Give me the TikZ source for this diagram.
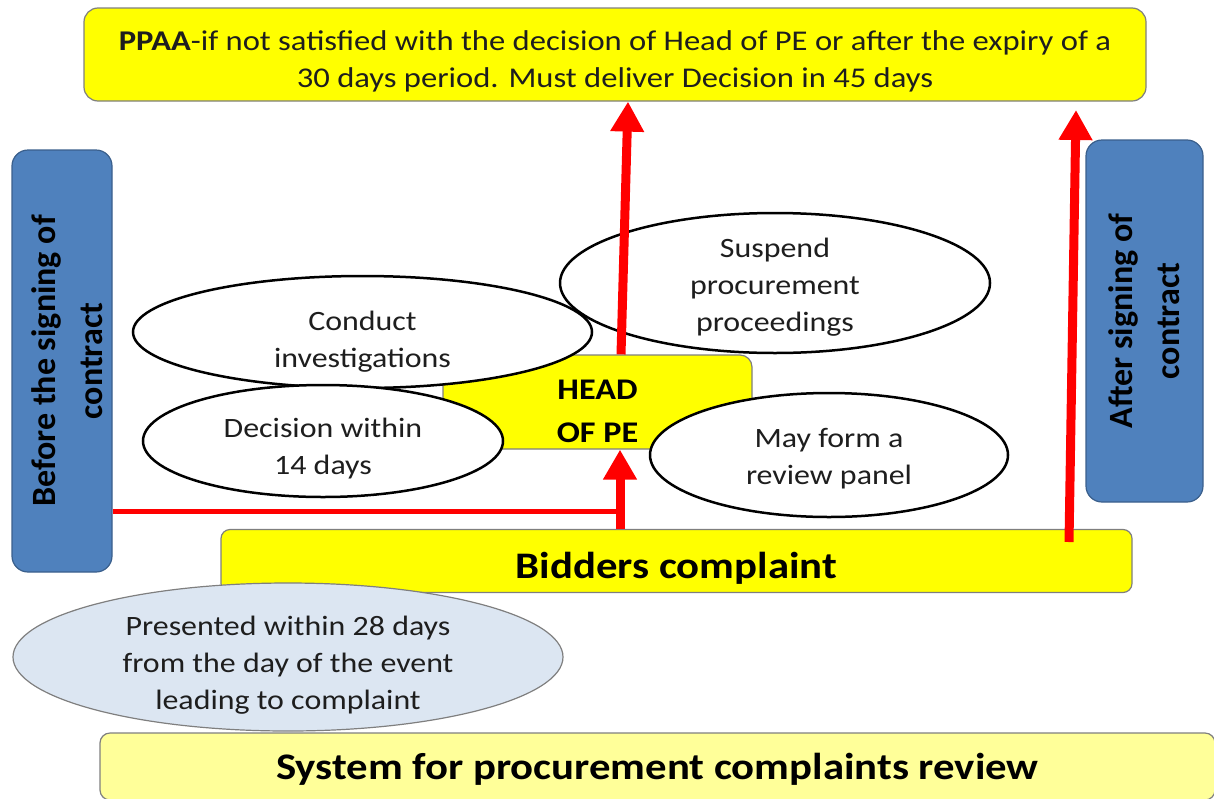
\documentclass[tikz,border=0pt]{standalone}
\usepackage{fontspec}
\setmainfont{Carlito}[FakeStretch=1.14]
\newfontfamily\upfont{Carlito}
\usetikzlibrary{shapes.geometric,arrows.meta}

\definecolor{hiyellow}{HTML}{FFFF00}
\definecolor{paleyellow}{HTML}{FFFF99}
\definecolor{boxblue}{HTML}{4F81BD}
\definecolor{boxblueline}{HTML}{3A5F8C}
\definecolor{paleblue}{HTML}{DCE6F2}
\definecolor{edgegray}{HTML}{7F7F7F}
\definecolor{ink}{HTML}{1E1E1E}

\begin{document}
\begin{tikzpicture}[x=1pt,y=-1pt,
  every node/.style={inner sep=0pt, text=ink},
  panel/.style={rounded corners=#1, draw=edgegray, line width=1.2pt},
  ybox/.style={panel=#1, fill=hiyellow},
  bbox/.style={panel=16pt, fill=boxblue, draw=boxblueline},
  oval/.style={ellipse, draw=black, line width=2.5pt, fill=white},
  body/.style={font=\fontsize{28}{37}\selectfont, align=center},
  heavy/.style={font=\bfseries\fontsize{37.5}{45}\selectfont, text=black},
  chief/.style={font=\bfseries\fontsize{30}{43}\selectfont, align=center, text=black},
  side/.style={font=\upfont\bfseries\fontsize{34}{47}\selectfont, align=center, text=black, rotate=90},
  redarrow/.style={draw=red, line width=9pt, -{Triangle[width=32pt,length=30pt]}},
  redline/.style={draw=red, line width=5pt}
]
\useasboundingbox (0,0) rectangle (1214,798);

% appeal authority at the top
\node[ybox=14pt, minimum width=1062pt, minimum height=93pt,
  label={[body, font=\fontsize{28.6}{37}\selectfont, yshift=-7pt]center:{\textbf{PPAA}-if not satisfied with the decision of Head of PE or after the expiry of a\\30 days period. Must deliver Decision in 45 days}}]
  (ppaa) at (615,54.5) {};

% the two time frames
\node[bbox, minimum width=100pt, minimum height=422pt,
  label={[xshift=5pt, side]center:{Before the signing of\\contract}}]
  (before) at (62,361) {};
\node[bbox, minimum width=117pt, minimum height=362pt,
  label={[side]center:{After signing of\\contract}}]
  (after) at (1144.5,321) {};

% title bar
\node[panel=10pt, fill=paleyellow, minimum width=1115pt, minimum height=67pt,
  label={[heavy, yshift=-2.5pt]center:{System for procurement complaints review}}]
  (system) at (657.5,766.5) {};

% complaint bar and its deadline
\node[ybox=9pt, minimum width=911pt, minimum height=63pt,
  label={[heavy, yshift=-7pt]center:{Bidders complaint}}]
  (bid) at (676.5,561) {};
\node[ellipse, draw=edgegray, line width=1.2pt, fill=paleblue,
  minimum width=550pt, minimum height=148pt,
  label={[body, yshift=-8pt]center:{Presented within 28 days\\from the day of the event\\leading to complaint}}]
  (present) at (288,657) {};

% head of the procuring entity and its duties
\node[ybox=12pt, minimum width=309pt, minimum height=94pt,
  label={[chief, yshift=-9pt]center:{HEAD\\OF PE}}]
  (head) at (597.5,402) {};
\node[oval, minimum width=430pt, minimum height=140pt,
  label={[body, yshift=-4pt]center:{Suspend\\procurement\\proceedings}}]
  (suspend) at (775,283) {};
\node[oval, minimum width=459pt, minimum height=112pt,
  label={[body, yshift=-10pt]center:{Conduct\\investigations}}]
  (conduct) at (362.5,332) {};
\node[oval, minimum width=360pt, minimum height=112pt,
  label={[body, yshift=-8pt]center:{Decision within\\14 days}}]
  (decide) at (323,441) {};
\node[oval, minimum width=358pt, minimum height=124pt,
  label={[body, yshift=-4pt]center:{May form a\\review panel}}]
  (panel) at (829,455) {};

% routes of the complaint
\coordinate (mid) at (620,511);
\coordinate (up1) at (621,0);
\coordinate (up2) at (628,0);
\coordinate (r1) at (1069,542);
\coordinate (r2) at (1076,110);

\draw[redline] (before.east |- mid) -- (mid);
\draw[redarrow] (mid |- bid.north) -- (mid |- head.south);
\draw[redarrow] (up1 |- head.north) -- (up2 |- ppaa.south);
\draw[redarrow] (r1) -- (r2);
\end{tikzpicture}
\end{document}
